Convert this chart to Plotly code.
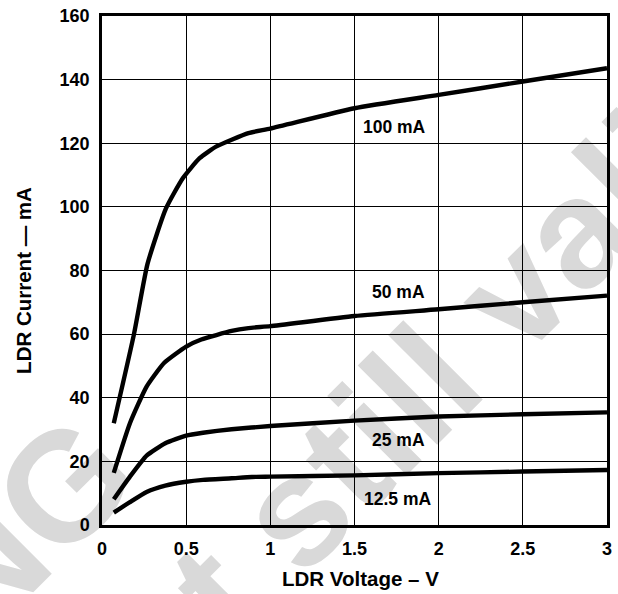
import plotly.graph_objects as go

# ---- data ----
v_100 = [0.07, 0.19, 0.27, 0.38, 0.48, 0.58, 0.68, 0.87, 1.0, 1.5, 2.0, 2.5, 3.0]
i_100 = [32, 60, 82, 99.5, 109, 115.3, 119, 123.2, 124.6, 131, 135.2, 139.4, 143.6]

v_50 = [0.07, 0.166, 0.265, 0.37, 0.5, 0.59, 0.77, 0.87, 1.0, 1.5, 2.0, 2.5, 3.0]
i_50 = [16.4, 32, 43.5, 51, 56.1, 58.3, 61.0, 61.9, 62.5, 65.7, 67.8, 70.0, 72.1]

v_25 = [0.07, 0.166, 0.265, 0.376, 0.5, 0.6, 0.77, 1.0, 1.5, 2.0, 2.5, 3.0]
i_25 = [8.1, 15.2, 21.8, 25.7, 28.1, 29.0, 30.1, 31.1, 32.8, 34.1, 34.8, 35.4]

v_12 = [0.07, 0.166, 0.265, 0.376, 0.5, 0.6, 0.77, 0.89, 1.0, 1.5, 2.0, 2.5, 3.0]
i_12 = [3.9, 7.2, 10.4, 12.4, 13.6, 14.2, 14.7, 15.1, 15.2, 15.6, 16.3, 16.8, 17.3]

curve_labels = ["100 mA", "50 mA", "25 mA", "12.5 mA"]
label_x = [1.74, 1.76, 1.76, 1.755]
label_y = [125.2, 73.4, 26.7, 8.1]

x_ticks = [0, 0.5, 1, 1.5, 2, 2.5, 3]
x_ticktext = ["0", "0.5", "1", "1.5", "2", "2.5", "3"]
y_ticks = [0, 20, 40, 60, 80, 100, 120, 140, 160]

x_title = "LDR Voltage – V"
y_title = "LDR Current — mA"

watermark_lines = ["NG", "not still valid"]

FONT = "Liberation Sans, Arial, Helvetica, sans-serif"

fig = go.Figure()
for xs, ys in [(v_100, i_100), (v_50, i_50), (v_25, i_25), (v_12, i_12)]:
    fig.add_trace(go.Scatter(
        x=xs, y=ys, mode="lines",
        line=dict(color="black", width=4.4, shape="spline", smoothing=0.5),
        showlegend=False, hoverinfo="skip"))

for t, lx, ly in zip(curve_labels, label_x, label_y):
    fig.add_annotation(x=lx, y=ly, text=t, showarrow=False,
                       font=dict(family=FONT, size=17.5, color="black", weight="bold"))

# axis titles as paper annotations
title_font = dict(family=FONT, size=20.5, color="black", weight="bold")
fig.add_annotation(xref="paper", yref="paper", x=0.512, y=-0.106, text=x_title,
                   showarrow=False, xanchor="center", yanchor="middle", font=title_font)
fig.add_annotation(xref="paper", yref="paper", x=-0.157, y=0.481, text=y_title,
                   showarrow=False, xanchor="center", yanchor="middle", textangle=-90,
                   font=title_font)

# watermark (light gray, rotated, beneath grid)
wm_pos = [((-0.3137, -0.1198), (-0.0353, 0.1591)),
          ((0.4255, 0.1100), (0.7039, 0.3890))]
for txt, ((x0, y0), (x1, y1)) in zip(watermark_lines, wm_pos):
    fig.add_shape(type="line", xref="paper", yref="paper",
                  x0=x0, y0=y0, x1=x1, y1=y1, layer="below",
                  line=dict(color="rgba(0,0,0,0)", width=0),
                  label=dict(text=txt, textposition="middle", yanchor="middle",
                             textangle=-45,
                             font=dict(family=FONT, size=155, color="#d9d9d9",
                                       weight="bold")))

axis_common = dict(
    showline=True, linecolor="black", linewidth=2.5, mirror=True,
    showgrid=True, gridcolor="black", gridwidth=1, zeroline=False,
    ticks="", tickfont=dict(family=FONT, size=18, color="black", weight="bold"),
)

fig.update_xaxes(range=[0, 3], tickvals=x_ticks, ticktext=x_ticktext,
                 ticklabelstandoff=6, **axis_common)
fig.update_yaxes(range=[0, 160], tickvals=y_ticks,
                 ticklabelstandoff=6, **axis_common)

fig.update_layout(
    width=618, height=594,
    margin=dict(l=102, r=6, t=16, b=69),
    paper_bgcolor="white", plot_bgcolor="rgba(0,0,0,0)",
)

fig.write_html("out.html", config={"displayModeBar": False},
               post_script="document.body.style.margin='0';document.body.style.overflow='hidden';")
